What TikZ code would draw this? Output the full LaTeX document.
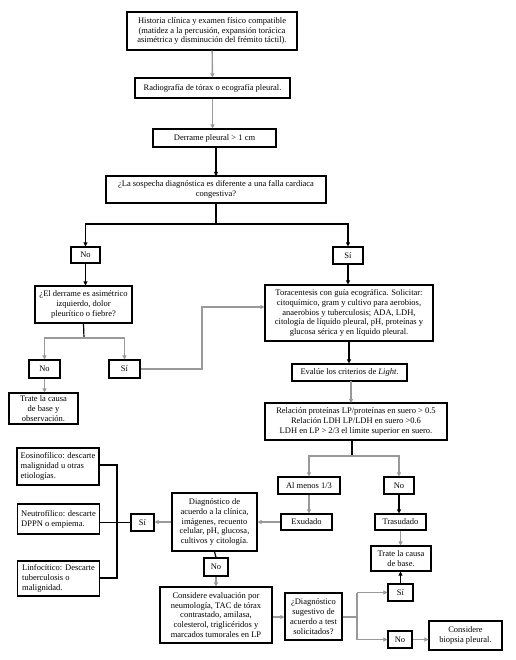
\documentclass[tikz,border=0pt]{standalone}
\usepackage{fontspec}
\setmainfont{Liberation Serif}
\usetikzlibrary{arrows.meta}
\tikzset{
  bx/.style={draw=black, line width=1.1pt, fill=white, align=center, inner sep=1pt,
    font=\fontsize{8.5}{9.9}\selectfont},
  lbx/.style={bx, align=left, minimum width=82pt},
  bl/.style={draw=black, line width=1.2pt},
  gr/.style={draw=black!40, line width=1.4pt},
  arr/.style={-{Triangle[length=4pt,width=4pt]}},
}
\begin{document}
\begin{tikzpicture}[x=1pt,y=-1pt]
\useasboundingbox (0,0) rectangle (515,660);
\node[bx,minimum width=170,minimum height=38] (hist) at (212,31) {Historia clínica y examen físico compatible\\(matidez a la percusión, expansión torácica\\asimétrica y disminución del frémito táctil).};
\node[bx,minimum width=155,minimum height=20] (radio) at (212.5,88) {Radiografía de tórax o ecografía pleural.};
\node[bx,minimum width=123,minimum height=18] (derr) at (214.5,138) {Derrame pleural > 1 cm};
\node[bx,minimum width=220,minimum height=27] (sosp) at (216,189.5) {¿La sospecha diagnóstica es diferente a una falla cardiaca\\congestiva?};
\node[bx,minimum width=29,minimum height=16] (no1) at (85.5,255) {No};
\node[bx,minimum width=30,minimum height=17] (si1) at (348,255.5) {Sí};
\node[bx,minimum width=97,minimum height=37] (elder) at (83.5,304.5) {¿El derrame es asimétrico\\izquierdo, dolor\\pleurítico o fiebre?};
\node[bx,minimum width=31,minimum height=18] (no2) at (44.5,369) {No};
\node[bx,minimum width=31,minimum height=18] (si2) at (124.5,369) {Sí};
\node[bx,minimum width=69,minimum height=31] (trate1) at (43.5,408.5) {Trate la causa\\de base y\\observación.};
\node[bx,minimum width=168,minimum height=56] (tora) at (349,313) {Toracentesis con guía ecográfica. Solicitar:\\citoquímico, gram y cultivo para aerobios,\\anaerobios y tuberculosis; ADA, LDH,\\citología de líquido pleural, pH, proteínas y\\glucosa sérica y en líquido pleural.};
\node[bx,minimum width=115,minimum height=17] (eval) at (349.5,372.5) {Evalúe los criterios de \textit{Light}.};
\node[bx,minimum width=182,minimum height=37] (rel) at (356,421.5) {Relación proteínas LP/proteínas en suero > 0.5\\Relación LDH LP/LDH en suero >0.6\\LDH en LP > 2/3 el límite superior en suero.};
\node[bx,minimum width=62,minimum height=17] (al) at (309,485.5) {Al menos 1/3};
\node[bx,minimum width=30,minimum height=17] (no3) at (399,485.5) {No};
\node[bx,minimum width=51,minimum height=16] (exu) at (306.5,522) {Exudado};
\node[bx,minimum width=51,minimum height=16] (tras) at (400.5,522) {Trasudado};
\node[bx,minimum width=60,minimum height=25] (trate2) at (401,558.5) {Trate la causa\\de base.};
\node[bx,minimum width=85,minimum height=58] (diag) at (214.5,522) {Diagnóstico de\\acuerdo a la clínica,\\imágenes, recuento\\celular, pH, glucosa,\\cultivos y citología.};
\node[bx,minimum width=23,minimum height=17] (si3) at (142.5,522.5) {Sí};
\node[lbx,minimum height=37] (eos) at (58,466.5) {Eosinofílico: descarte\\malignidad u otras\\etiologías.};
\node[lbx,minimum height=30] (neu) at (58.5,519) {Neutrofílico: descarte\\DPPN o empiema.};
\node[lbx,minimum height=35] (lin) at (58.5,578.5) {Linfocítico: Descarte\\tuberculosis o\\malignidad.};
\node[bx,minimum width=24,minimum height=18] (no4) at (216,567) {No};
\node[bx,minimum width=112,minimum height=56] (cons) at (216,615) {Considere evaluación por\\neumología, TAC de tórax\\contrastado, amilasa,\\colesterol, triglicéridos y\\marcados tumorales en LP};
\node[bx,minimum width=57,minimum height=47] (dsug) at (313.5,616.5) {¿Diagnóstico\\sugestivo de\\acuerdo a test\\solicitados?};
\node[bx,minimum width=25,minimum height=17] (si4) at (400.5,592.5) {Sí};
\node[bx,minimum width=24,minimum height=17] (no5) at (400,639.5) {No};
\node[bx,minimum width=73,minimum height=29] (bio) at (465.5,635.5) {Considere\\biopsia pleural.};

\coordinate (j1) at (216,224);
\coordinate (j2) at (84,338);
\coordinate (t1) at (202,369);
\coordinate (t2) at (202,307);
\coordinate (j3) at (352,456);
\coordinate (b1) at (117,465);
\coordinate (b2) at (117,578);
\coordinate (j4) at (357,617);

\draw[gr,arr] (hist) -- (radio);
\draw[gr,arr] (radio.south) -- (radio.south |- derr.north);
\draw[bl,arr] (216,147) -- (216,176);
\draw[bl] (sosp.south) -- (j1);
\draw[bl,arr] (j1) -| (no1.north);
\draw[bl,arr] (j1) -| (si1.north);
\draw[bl,arr] (no1.south) -- (no1.south |- elder.north);
\draw[bl] (elder.south) -- (j2);
\draw[gr,arr] (j2) -| (no2.north);
\draw[gr,arr] (j2) -| (si2.north);
\draw[gr,arr] (no2.south) -- (no2.south |- trate1.north);
\draw[gr,arr] (si2.east) -- (t1) -- (t2) -- (t2 -| tora.west);
\draw[bl,arr] (si1.south) -- (si1.south |- tora.north);
\draw[bl,arr] (tora.south) -- (tora.south |- eval.north);
\draw[gr,arr] (351,381) -- (351,403);
\draw[bl] (352,440) -- (j3);
\draw[gr,arr] (j3) -| (al.north);
\draw[gr,arr] (j3) -| (no3.north);
\draw[gr,arr] (al.south) -- (al.south |- exu.north);
\draw[bl,arr] (no3.south) -- (no3.south |- tras.north);
\draw[gr,arr] (tras.south) -- (tras.south |- trate2.north);
\draw[gr,arr] (exu.west) -- (exu.west -| diag.east);
\draw[gr,arr] (diag.west) -- (diag.west -| si3.east);
\draw[bl] (si3.west) -- (si3.west -| b1);
\draw[bl] (eos.east |- b1) -- (b1) -- (b2) -- (lin.east |- b2);
\draw[bl] (neu.east |- si3.west) -- (si3.west -| b1);
\draw[bl] (diag.south) -- (no4.north);
\draw[gr,arr] (no4.south) -- (no4.south |- cons.north);
\draw[gr,arr] (cons.east |- j4) -- (j4 -| dsug.west);
\draw[gr] (dsug.east |- j4) -- (j4);
\draw[gr,arr] (357,592.5) -- (si4.west);
\draw[gr,arr] (357,639.5) -- (no5.west);
\draw[gr] (357,592.5) -- (357,639.5);
\draw[bl,arr] (si4.north) -- (si4.north |- trate2.south);
\draw[gr,arr] (no5.east) -- (no5.east -| bio.west);
\end{tikzpicture}
\end{document}
